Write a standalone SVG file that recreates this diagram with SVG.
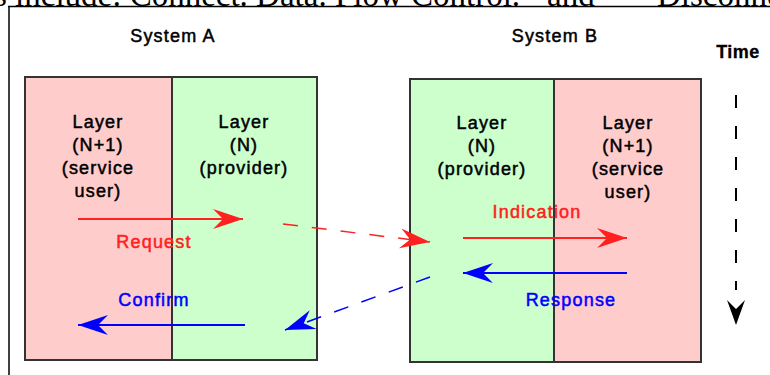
<svg xmlns="http://www.w3.org/2000/svg" width="770" height="375" viewBox="0 0 770 375">
<style>
.lbl{font-family:"Liberation Sans",Arial,sans-serif;font-size:18px;letter-spacing:1.2px;text-anchor:middle;fill:#000;stroke:#000;stroke-width:0.5}
.red{fill:#ff2020;stroke:#ff2020}
.blue{fill:#0000ff;stroke:#0000ff}
.box{stroke:#333;stroke-width:2}
.top{font-family:"Liberation Serif","Times New Roman",serif;font-size:33px;fill:#000}
</style>
<defs>
<marker id="ahR" markerUnits="userSpaceOnUse" viewBox="-30 -10 30 20" refX="0" refY="0" markerWidth="30" markerHeight="20" orient="auto" overflow="visible">
<path d="M0,0 L-30,-10 L-20,0 L-30,10 Z" fill="#ff2020"/>
</marker>
<marker id="ahB" markerUnits="userSpaceOnUse" viewBox="-30 -10 30 20" refX="0" refY="0" markerWidth="30" markerHeight="20" orient="auto" overflow="visible">
<path d="M0,0 L-30,-10 L-20,0 L-30,10 Z" fill="#0000ff"/>
</marker>
</defs>
<rect width="770" height="375" fill="#fff"/>
<text class="top" x="-6" y="6">s include: Connect. Data. Flow Control.</text>
<text class="top" x="547" y="6">and</text>
<text class="top" x="657" y="6">Disconnect</text>
<line x1="8" y1="6.5" x2="770" y2="6.5" stroke="#000" stroke-width="1.5"/>
<line x1="9" y1="6" x2="9" y2="375" stroke="#000" stroke-width="1.5"/>

<g id="systemA">
<text class="lbl" x="173" y="42">System A</text>
<g id="A-user">
<rect class="box" x="25" y="77" width="147" height="283" fill="#ffcccc"/>
<text class="lbl" x="98" y="128">Layer</text>
<text class="lbl" x="98" y="151">(N+1)</text>
<text class="lbl" x="98" y="174">(service</text>
<text class="lbl" x="98" y="197">user)</text>
</g>
<g id="A-provider">
<rect class="box" x="172" y="77" width="145" height="283" fill="#ccffcc"/>
<text class="lbl" x="244" y="128">Layer</text>
<text class="lbl" x="244" y="151">(N)</text>
<text class="lbl" x="244" y="174">(provider)</text>
</g>
</g>

<g id="systemB">
<text class="lbl" x="555" y="42">System B</text>
<g id="B-provider">
<rect class="box" x="410" y="79" width="144" height="283" fill="#ccffcc"/>
<text class="lbl" x="482" y="129">Layer</text>
<text class="lbl" x="482" y="152">(N)</text>
<text class="lbl" x="482" y="175">(provider)</text>
</g>
<g id="B-user">
<rect class="box" x="554" y="79" width="147" height="283" fill="#ffcccc"/>
<text class="lbl" x="628" y="129">Layer</text>
<text class="lbl" x="628" y="152">(N+1)</text>
<text class="lbl" x="628" y="175">(service</text>
<text class="lbl" x="628" y="198">user)</text>
</g>
</g>

<g id="time">
<text class="lbl" x="738" y="58" style="font-weight:bold;letter-spacing:0.5px;stroke-width:0.3">Time</text>
<line x1="736" y1="95" x2="736" y2="290" stroke="#000" stroke-width="2" stroke-dasharray="13 18"/>
<path d="M736,325 L727,300 L736,309 L745,300 Z" fill="#000"/>
</g>

<g id="connectors">
<line x1="78" y1="219" x2="243" y2="219" stroke="#ff2020" stroke-width="2" marker-end="url(#ahR)"/>
<line x1="283" y1="224" x2="430" y2="242" stroke="#ff2020" stroke-width="1.5" stroke-dasharray="15 14" marker-end="url(#ahR)"/>
<line x1="463" y1="238" x2="627" y2="238" stroke="#ff2020" stroke-width="2" marker-end="url(#ahR)"/>
<line x1="627" y1="273" x2="463" y2="273" stroke="#0000ff" stroke-width="2" marker-end="url(#ahB)"/>
<line x1="430" y1="277" x2="285" y2="330" stroke="#0000ff" stroke-width="1.5" stroke-dasharray="15 14" marker-end="url(#ahB)"/>
<line x1="245" y1="325" x2="78" y2="325" stroke="#0000ff" stroke-width="2" marker-end="url(#ahB)"/>
<text class="lbl red" x="154" y="248">Request</text>
<text class="lbl blue" x="154" y="306">Confirm</text>
<text class="lbl red" x="537" y="218">Indication</text>
<text class="lbl blue" x="571" y="306">Response</text>
</g>
</svg>
